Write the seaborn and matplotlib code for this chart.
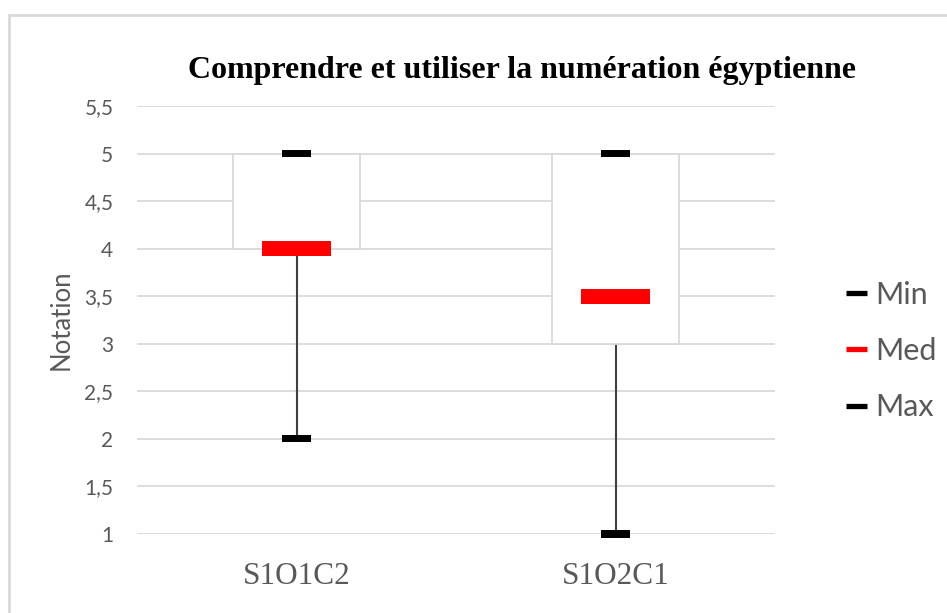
import numpy as np
import pandas as pd
import matplotlib
matplotlib.use("Agg")
import matplotlib.pyplot as plt
import seaborn as sns
from matplotlib.lines import Line2D
from matplotlib.patches import Rectangle

# ---- data ----
categories = ["S1O1C2", "S1O2C1"]
min_vals = [2, 1]
q1_vals = [4, 3]
med_vals = [4, 3.5]
q3_vals = [5, 5]
max_vals = [5, 5]
y_ticks = [1, 1.5, 2, 2.5, 3, 3.5, 4, 4.5, 5, 5.5]
y_tick_labels = ["1", "1,5", "2", "2,5", "3", "3,5", "4", "4,5", "5", "5,5"]
series_names = ["Min", "Med", "Max"]
title = "Comprendre et utiliser la numération égyptienne"
ylabel = "Notation"

sns.set_style("white")
plt.rcParams["font.family"] = ["Lato", "DejaVu Sans"]

W, H = 947, 613
fig = plt.figure(figsize=(W / 100, H / 100), dpi=100)
ax = fig.add_axes([137 / W, 1 - 534 / H, (775 - 137) / W, (534 - 106) / H])

pos = np.arange(len(categories))

# whiskers (behind box)
ax.vlines(pos, min_vals, max_vals, color="#404040", lw=1.5, zorder=1)
# boxes
ax.bar(pos, np.array(q3_vals) - np.array(q1_vals), bottom=q1_vals, width=0.4,
       color="white", edgecolor="#d9d9d9", linewidth=1.3, zorder=2)

# markers via seaborn
df = pd.DataFrame({
    "pos": np.concatenate([pos, pos, pos]),
    "value": min_vals + med_vals + max_vals,
    "stat": ["Min"] * len(pos) + ["Med"] * len(pos) + ["Max"] * len(pos),
})
small = [(-4, -1), (4, -1), (4, 1), (-4, 1), (-4, -1)]
big = [(-4.53, -1), (4.53, -1), (4.53, 1), (-4.53, 1), (-4.53, -1)]
sns.scatterplot(data=df, x="pos", y="value", hue="stat", style="stat", size="stat",
                palette={"Min": "black", "Med": "#ff0000", "Max": "black"},
                markers={"Min": small, "Med": big, "Max": small},
                sizes={"Min": 20.2 ** 2, "Med": 49 ** 2, "Max": 20.2 ** 2},
                linewidth=0, legend=False, zorder=3, clip_on=False, ax=ax)
for coll in ax.collections:
    coll.set_clip_on(False)

ax.set_xlim(-0.5, len(categories) - 0.5)
ax.set_ylim(1, 5.5)
ax.set_yticks(y_ticks)
ax.set_yticklabels(y_tick_labels)
ax.set_xticks(pos)
ax.set_xticklabels(categories, family="Liberation Serif", fontsize=22.5, color="#595959")
ax.tick_params(axis="y", length=0, pad=17, labelsize=15, labelcolor="#595959")
ax.tick_params(axis="x", length=0, pad=20)
ax.yaxis.grid(True, color="#d9d9d9", lw=1.3, zorder=0)
ax.set_axisbelow(True)
for s in ax.spines.values():
    s.set_visible(False)
ax.set_xlabel("")
ax.set_ylabel("")

fig.text(61 / W, 1 - 320 / H, ylabel, rotation=90, ha="center", va="center",
         fontsize=18.5, color="#595959")
fig.text(522 / W, 1 - 78 / H, title, ha="center", va="baseline", fontsize=23,
         fontweight="bold", family="Liberation Serif", color="black")

handles = [Line2D([], [], color=c, lw=3.8, solid_capstyle="butt")
           for c in ["black", "#ff0000", "black"]]
fig.legend(handles, series_names, loc="upper left", bbox_to_anchor=(846 / W, 1 - 281 / H),
           frameon=False, fontsize=22, labelcolor="#595959", handlelength=0.7,
           handletextpad=0.25, labelspacing=0.92, borderpad=0, borderaxespad=0)

fig.add_artist(Rectangle((9 / W, -0.1), 1.2, 1.1 - 15 / H, transform=fig.transFigure,
                         fill=False, edgecolor="#d9d9d9", lw=2))

fig.savefig("out.png", dpi=100)
